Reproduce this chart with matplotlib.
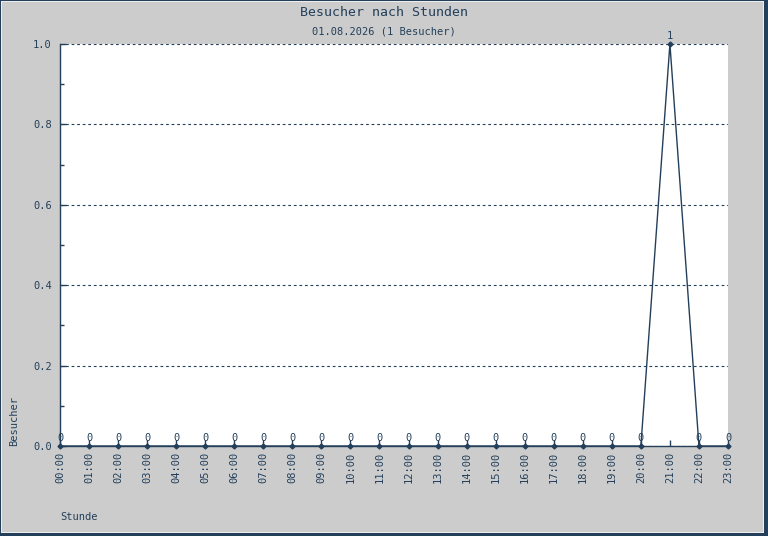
import matplotlib
matplotlib.use('Agg')
import matplotlib.pyplot as plt
from matplotlib.patches import Rectangle

hours = ['%02d:00' % h for h in range(24)]
visitors = [0, 0, 0, 0, 0, 0, 0, 0, 0, 0, 0, 0,
            0, 0, 0, 0, 0, 0, 0, 0, 0, 1, 0, 0]
title = 'Besucher nach Stunden'
subtitle = '01.08.2026 (1 Besucher)'

ink = '#233f5a'
W, H = 768, 536
plt.rcParams['font.family'] = 'DejaVu Sans Mono'

fig = plt.figure(figsize=(7.68, 5.36), dpi=100, facecolor=ink)


def px_rect(x0, y0, x1, y1, color):
    # rectangle given in pixel coords from the top left corner
    fig.patches.append(Rectangle((x0 / W, 1 - y1 / H), (x1 - x0) / W,
                                 (y1 - y0) / H, transform=fig.transFigure,
                                 facecolor=color, edgecolor='none', zorder=-10))


# frame: dark edge, light bevel, grey face, dark shadow right/bottom
px_rect(1, 1, 764, 533, '#eeeeee')
px_rect(2, 2, 763, 532, '#cccccc')

ax = fig.add_axes([60 / W, 1 - 446 / H, 668 / W, 402 / H])
ax.set_facecolor('white')

x = list(range(len(hours)))
ax.plot(x, visitors, color=ink, linewidth=1, marker='D', markersize=2.5,
        markerfacecolor=ink, markeredgecolor=ink, clip_on=False, zorder=3)
for xi, v in zip(x, visitors):
    ax.text(xi, v + 0.008, str(v), ha='center', va='bottom', fontsize=7.5,
            color=ink)

ax.set_xlim(0, 23)
ax.set_ylim(0, 1.0)
ax.set_xticks(x)
ax.set_xticklabels(hours, rotation=90, fontsize=7.5, color=ink)
ax.set_yticks([0.0, 0.2, 0.4, 0.6, 0.8, 1.0])
ax.set_yticklabels(['0.0', '0.2', '0.4', '0.6', '0.8', '1.0'], fontsize=7.5,
                   color=ink)
ax.set_yticks([0.1, 0.3, 0.5, 0.7, 0.9], minor=True)
ax.tick_params(axis='both', which='both', direction='in', color=ink,
               length=4, width=1, pad=6)
ax.tick_params(axis='y', which='minor', length=3)
ax.tick_params(axis='x', pad=4)

ax.grid(axis='y', which='major', color=ink, linestyle=(0, (2.5, 2.5)),
        linewidth=0.8)
ax.set_axisbelow(True)
for side in ['top', 'right']:
    ax.spines[side].set_visible(False)
for side in ['left', 'bottom']:
    ax.spines[side].set_color(ink)
    ax.spines[side].set_linewidth(1)

fig.text(384 / W, 1 - 13 / H, title, ha='center', va='center',
         fontsize=9.5, color=ink)
fig.text(384 / W, 1 - 32 / H, subtitle, ha='center', va='center',
         fontsize=7.5, color=ink)
fig.text(14 / W, 1 - 446 / H, 'Besucher', rotation=90, ha='center',
         va='bottom', fontsize=7.5, color=ink)
fig.text(60 / W, 1 - 517 / H, 'Stunde', ha='left', va='center',
         fontsize=7.5, color=ink)

fig.savefig('out.png', dpi=100, facecolor=fig.get_facecolor())
